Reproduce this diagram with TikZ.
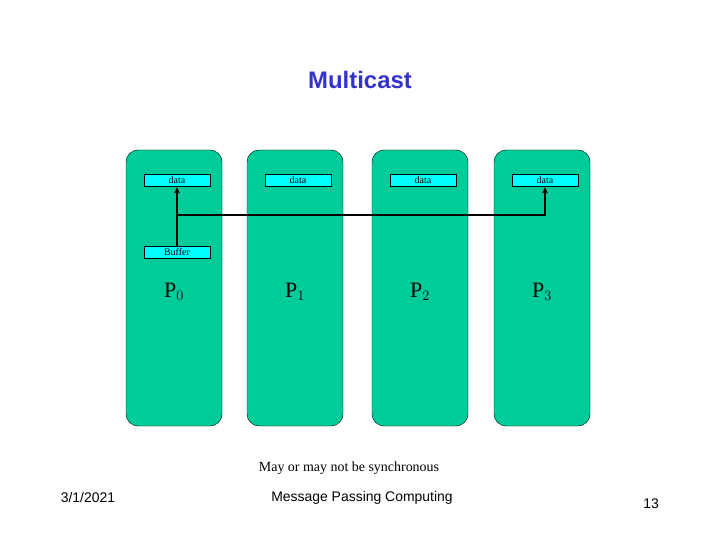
\documentclass[tikz,border=0pt]{standalone}
\usepackage{fontspec}
\setmainfont{Liberation Serif}
\setsansfont{Liberation Sans}
\usetikzlibrary{arrows.meta}
\definecolor{procgreen}{HTML}{00CC99}
\definecolor{bufcyan}{HTML}{00FFFF}
\definecolor{titleblue}{HTML}{3333CC}
\begin{document}
\begin{tikzpicture}[x=1bp, y=-1bp,
    proc/.style = {draw, fill=procgreen, rounded corners=12bp, minimum width=96bp, minimum height=276bp, inner sep=0pt},
    buf/.style = {draw, fill=bufcyan, minimum width=66bp, minimum height=12bp, inner sep=0pt, font=\fontsize{10}{10}\selectfont},
    plabel/.style = {font=\fontsize{22}{22}\selectfont},
    link/.style = {line width=2.2bp, -{Latex[length=7bp,width=6bp]}}
]
    \useasboundingbox (0,0) rectangle (720,540);
    \node[font=\sffamily\bfseries\fontsize{24}{24}\selectfont, text=titleblue] (title) at (360,80) {Multicast};
    % processes
    \foreach \i/\x in {0/174, 1/295, 2/420, 3/542} {
        \node[proc] (P\i) at (\x,288) {};
        \node[buf] (D\i) at (\x+3,180) {data};
        \node[plabel] (L\i) at (\x,292) {P$_{\i}$};
    }
    \node[buf] (B0) at (177,252) {Buffer};
    \coordinate (J) at (177,215);
    \draw[link] (B0.north) -- (D0.south);
    \draw[link] (J) -| (D3.south);
    % footer
    \node[font=\fontsize{14}{14}\selectfont] (note) at (349,468) {May or may not be synchronous};
    \node[font=\sffamily\fontsize{14}{14}\selectfont] (date) at (88,498) {3/1/2021};
    \node[font=\sffamily\fontsize{14}{14}\selectfont] (foot) at (362,498) {Message Passing Computing};
    \node[font=\sffamily\fontsize{14}{14}\selectfont] (page) at (651,504) {13};
\end{tikzpicture}
\end{document}
